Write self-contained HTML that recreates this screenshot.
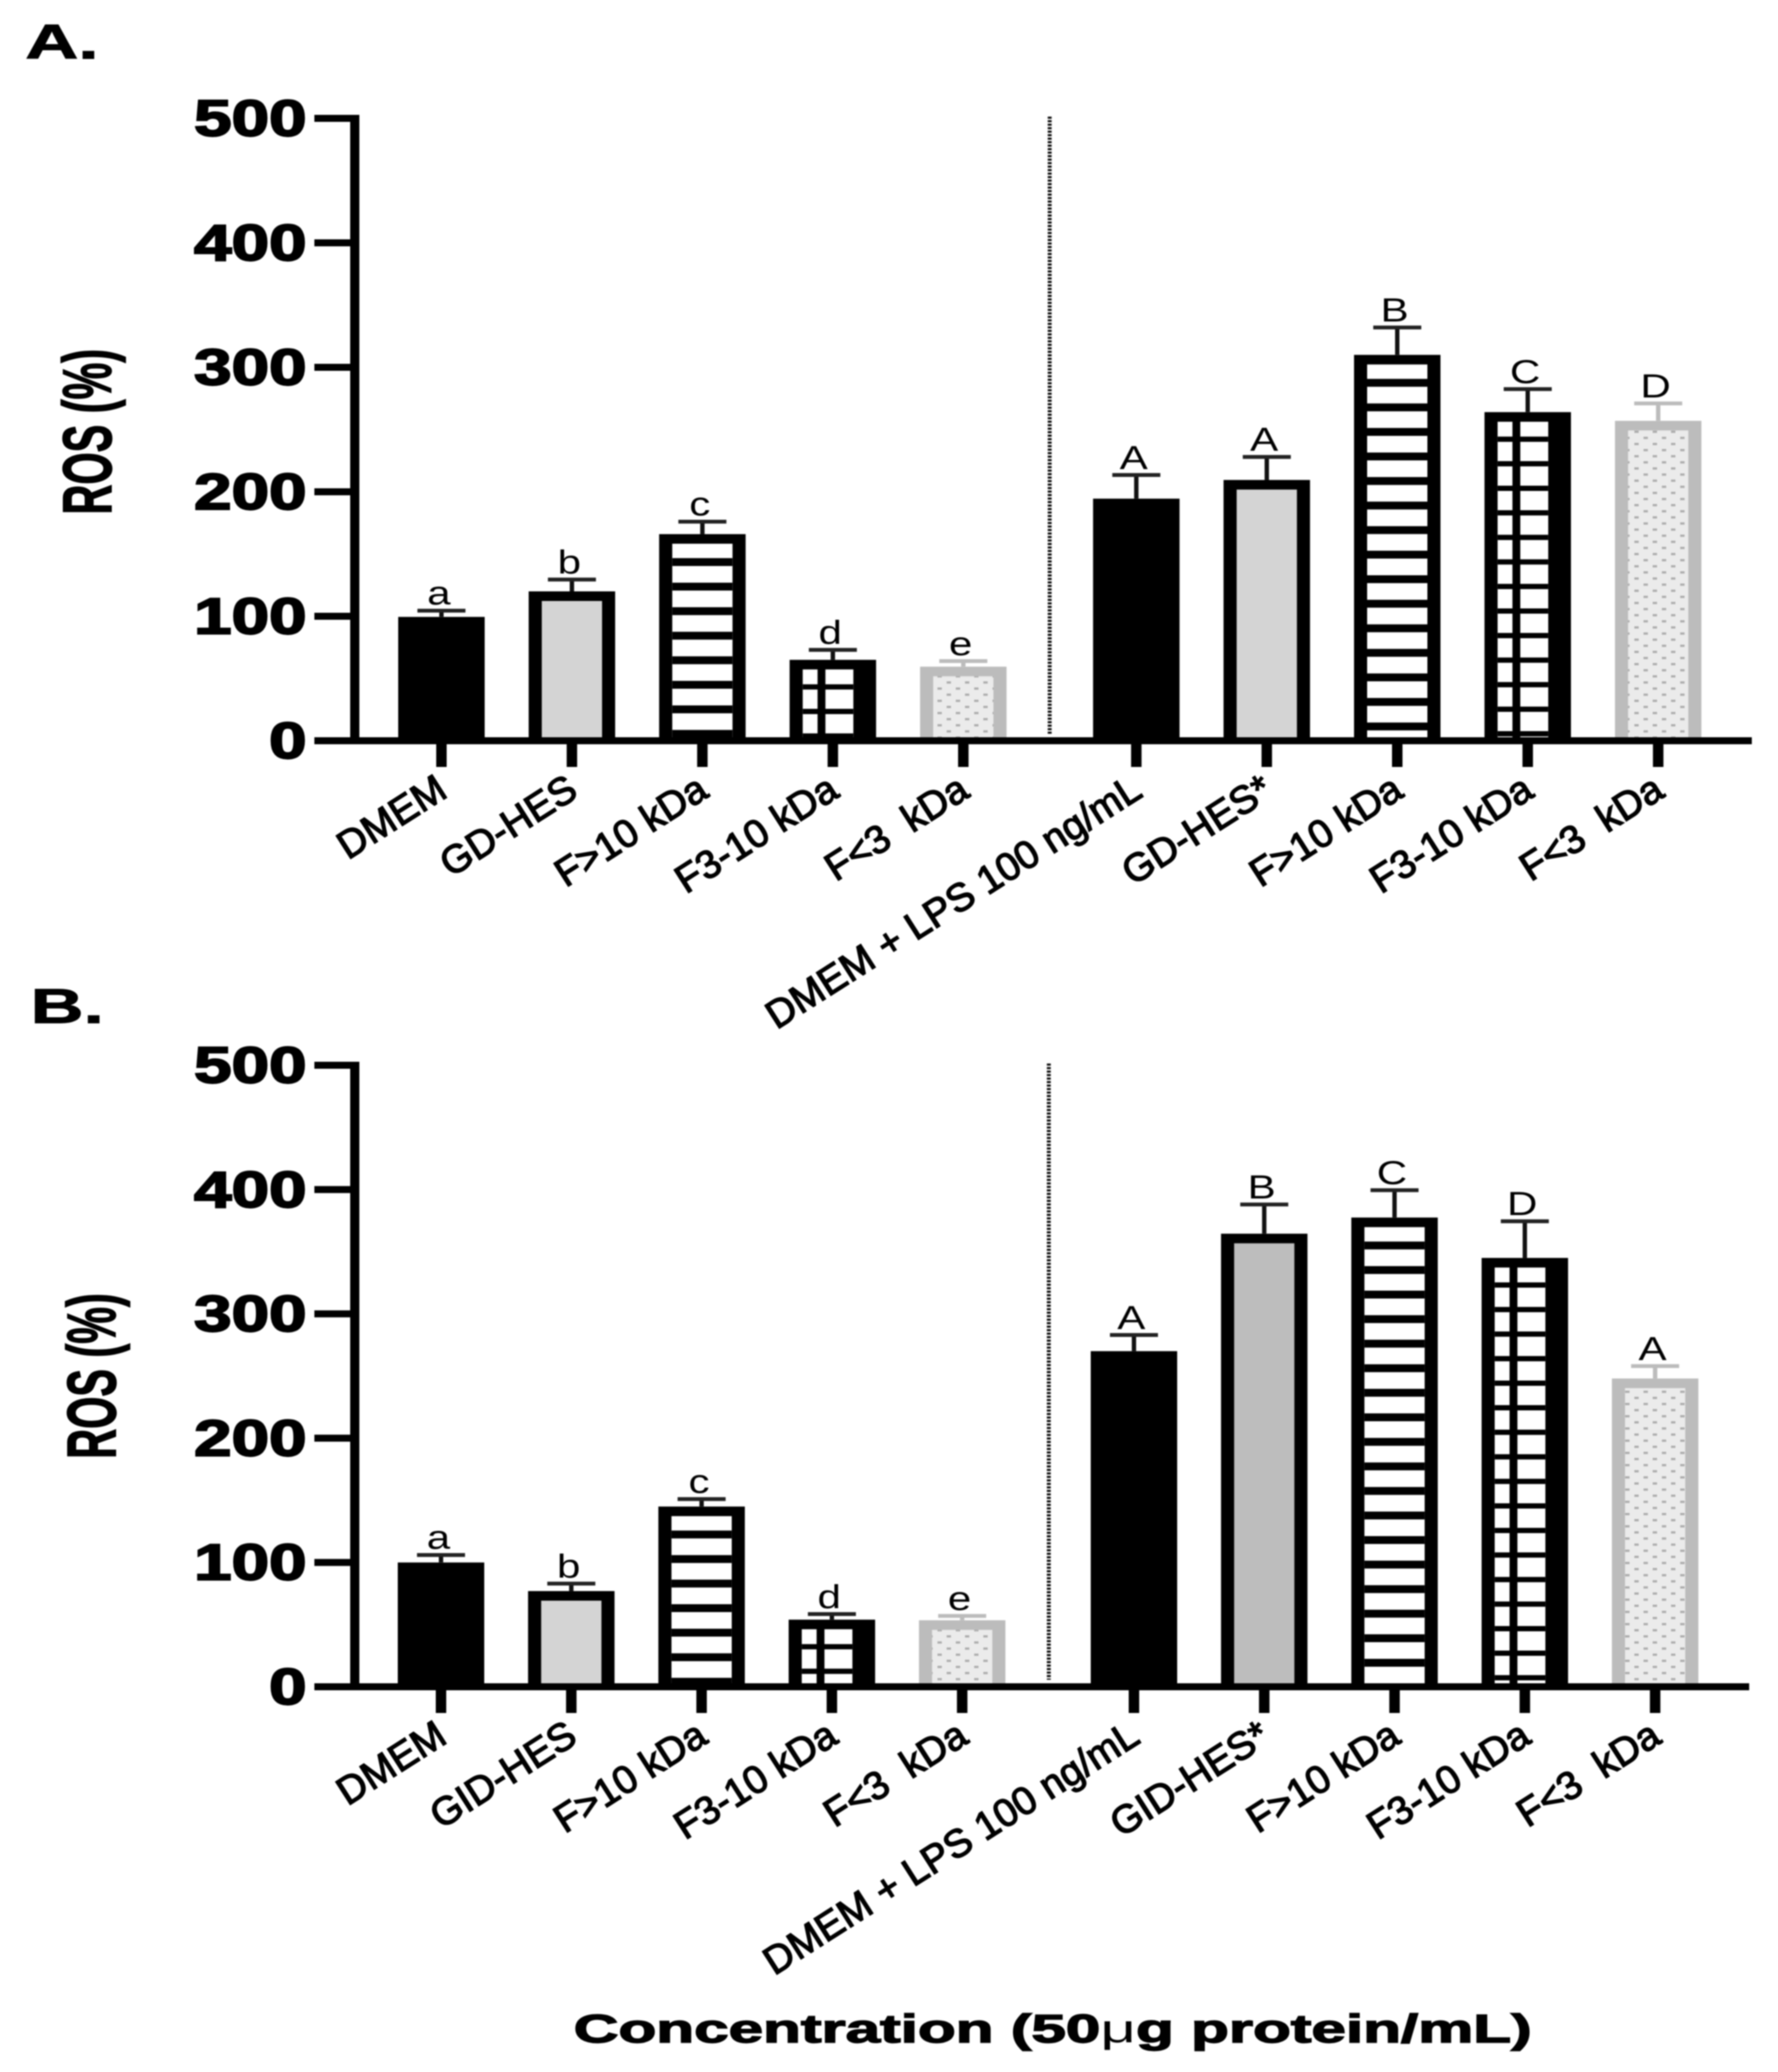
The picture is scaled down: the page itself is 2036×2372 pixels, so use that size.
<!DOCTYPE html>
<html lang="en">
<head>
<meta charset="utf-8">
<title>ROS bar charts</title>
<style>
html,body{margin:0;padding:0;background:#fff;width:2036px;height:2372px;overflow:hidden}
svg{display:block;filter:blur(.7px)}
text{font-family:"Liberation Sans",sans-serif;fill:#000;white-space:pre}
</style>
</head>
<body>
<svg id="fig" xmlns="http://www.w3.org/2000/svg" width="2036" height="2372" viewBox="0 0 2036 2372">
<defs>
<pattern id="dots" patternUnits="userSpaceOnUse" width="21" height="14">
<rect width="21" height="14" fill="#ebebeb"/>
<rect x="2.5" y="3" width="5" height="2.6" fill="#adadad"/>
<rect x="13" y="10" width="5" height="2.6" fill="#adadad"/>
</pattern>
</defs>
<rect width="2036" height="2372" fill="#fff"/>
<text transform="translate(29,67) scale(1.5,1)" font-size="56" font-weight="bold" stroke="#000" stroke-width="1">A.</text>
<text transform="translate(35,1171) scale(1.5,1)" font-size="56" font-weight="bold" stroke="#000" stroke-width="1">B.</text>
<g id="chartA"></g>
<g id="chartB"></g>
<text x="657" y="2338" font-size="45" font-weight="bold" stroke="#000" stroke-width="1.4" textLength="1097" lengthAdjust="spacingAndGlyphs">Concentration (50<tspan font-weight="normal" stroke-width="0">μ</tspan>g protein/mL)</text>
</svg>
<script>
const yTicks = [0, 100, 200, 300, 400, 500];
const categoriesA = ["DMEM", "GD-HES", "F>10 kDa", "F3-10 kDa", "F<3  kDa", "DMEM + LPS 100 ng/mL", "GD-HES*", "F>10 kDa", "F3-10 kDa", "F<3  kDa"];
const valuesA = [99.5, 120, 166, 65, 59.5, 194.5, 209.5, 310, 264, 257];
const errorsA = [5, 9.5, 10, 8, 4.5, 19, 18.5, 22, 18.5, 14];
const lettersA = ["a", "b", "c", "d", "e", "A", "A", "B", "C", "D"];
const categoriesB = ["DMEM", "GID-HES", "F>10 kDa", "F3-10 kDa", "F<3  kDa", "DMEM + LPS 100 ng/mL", "GID-HES*", "F>10 kDa", "F3-10 kDa", "F<3  kDa"];
const valuesB = [100, 77, 145, 54, 53.5, 270, 364.5, 377.5, 345, 248];
const errorsB = [6, 6, 6, 4.5, 3.5, 13, 23.5, 22, 29.5, 10];
const lettersB = ["a", "b", "c", "d", "e", "A", "B", "C", "D", "A"];
const barStylesA = ["solid", "light", "hatch", "grid", "dots", "solid", "light", "hatch", "grid", "dots"];
const barStylesB = ["solid", "light", "hatch", "grid", "dots", "solid", "mid", "hatch", "grid", "dots"];

const NS = "http://www.w3.org/2000/svg";
function mk(tag, parent, attrs) {
  const e = document.createElementNS(NS, tag);
  for (const k in attrs) e.setAttribute(k, attrs[k]);
  parent.appendChild(e);
  return e;
}

function drawChart(cfg) {
  const root = document.getElementById(cfg.id);
  const yScale = v => cfg.base - v * (cfg.base - cfg.top) / 500;
  const xScale = i => cfg.x0 + cfg.pitch * i + (i >= 5 ? cfg.gap : 0);
  const barW = 99, side = 15, topB = 11;

  cfg.values.forEach((v, i) => {
    const style = cfg.styles[i];
    const cx = xScale(i), left = cx - barW / 2, ty = yScale(v), h = cfg.base - ty;
    const g = mk("g", root, {});
    
    
    const border = style === "dots" ? "#bcbcbc" : "#000";

    const errTop = yScale(v + cfg.errors[i]);
    const stem = mk("rect", g, {x: cx - 2.5, y: errTop, width: 5, height: ty - errTop, fill: style === "dots" ? "#bcbcbc" : "#111"});
    
    
    const cap = mk("rect", g, {x: cx - 27.5, y: errTop - 2.2, width: 55, height: 4.4, fill: style === "dots" ? "#bcbcbc" : "#222"});
    
    

    const outer = mk("rect", g, {x: left, y: ty, width: barW, height: h, fill: border});
    
    

    const innerH = Math.max(0, h - topB);
    if (style === "light" || style === "mid" || style === "dots" || style === "hatch") {
      const fill = style === "light" ? "#d4d4d4" : style === "mid" ? "#bdbdbd" : style === "dots" ? "url(#dots)" : "#fff";
      const inner = mk("rect", g, {x: left + side, y: ty + topB, width: barW - 2 * side, height: innerH, fill: fill});
      
      
    }
    if (style === "grid") {
      const c1 = mk("rect", g, {x: left + 15, y: ty + topB, width: 17, height: innerH, fill: "#fff"});
      
      
      const c2 = mk("rect", g, {x: left + 41, y: ty + topB, width: 32, height: innerH, fill: "#fff"});
      
      
    }
    if (style === "hatch" || style === "grid") {
      const lineW = style === "hatch" ? 9 : 6;
      const first = style === "hatch" ? 32 : 31;
      const lineLen = style === "hatch" ? barW - 2 * side : 58;
      for (let ly = ty + first; ly < cfg.base - 2; ly += 28.1) {
        const ln = mk("rect", g, {x: left + side, y: ly - lineW / 2, width: lineLen, height: lineW, fill: "#000"});
        
        
      }
    }

    const sig = mk("text", g, {transform: `translate(${cx - 3},${errTop - 7}) scale(1.27,1)`, "font-size": 38, "text-anchor": "middle", fill: "#222"});
    sig.textContent = cfg.letters[i];
    
    

    const tick = mk("rect", root, {x: cx - 6, y: cfg.base, width: 12, height: 30, fill: "#000"});
    
    

    const lab = mk("text", root, {transform: `translate(${cx + 9},${cfg.base + 63}) rotate(-32.5)`, "font-size": 45, "text-anchor": "end", stroke: "#000", "stroke-width": 1.5});
    lab.textContent = cfg.categories[i];
    
    
  });

  const xAxis = mk("rect", root, {x: 360, y: cfg.base - 4, width: cfg.axisEnd - 360, height: 8, fill: "#000"});
  
  
  const yAxis = mk("rect", root, {x: 401, y: cfg.top - 4, width: 10.5, height: cfg.base - cfg.top + 8, fill: "#000"});
  
  

  yTicks.forEach(t => {
    const y = yScale(t);
    const tk = mk("rect", root, {x: 360, y: y - 4, width: 42, height: 8, fill: "#000"});
    
    
    const lb = mk("text", root, {transform: `translate(351,${y + 20}) scale(1.33,1)`, "font-size": 58, "font-weight": "bold", "text-anchor": "end", stroke: "#000", "stroke-width": 2});
    lb.textContent = String(t);
    
    
  });

  const div = mk("line", root, {x1: cfg.divX, x2: cfg.divX, y1: cfg.top - 2, y2: cfg.base - 8, stroke: "#111", "stroke-width": 4.5, "stroke-dasharray": "2.5 1.5"});
  
  

  const yt = mk("text", root, {transform: `translate(${cfg.titleX},${cfg.titleY}) rotate(-90) scale(0.6,1)`, "font-size": 79, "font-weight": "bold", stroke: "#000", "stroke-width": 1.5});
  yt.textContent = "ROS (%)";
  
  
}

drawChart({id: "chartA", base: 848, top: 135.5, x0: 505.5, pitch: 149.4, gap: 48.7, axisEnd: 2006, divX: 1202, titleX: 127, titleY: 589, categories: categoriesA, values: valuesA, errors: errorsA, letters: lettersA, styles: barStylesA});
drawChart({id: "chartB", base: 1931, top: 1219.5, x0: 505, pitch: 149.2, gap: 47.5, axisEnd: 2003, divX: 1201, titleX: 132, titleY: 1670, categories: categoriesB, values: valuesB, errors: errorsB, letters: lettersB, styles: barStylesB});
</script>
</body>
</html>
